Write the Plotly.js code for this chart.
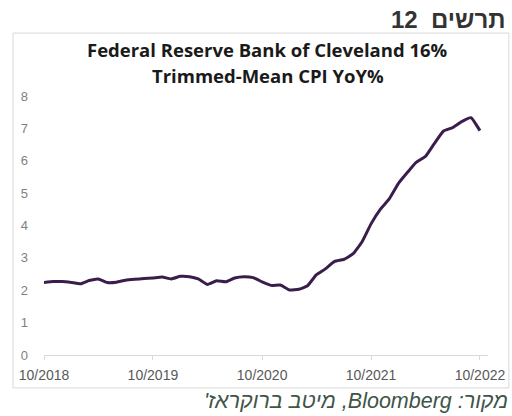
<!DOCTYPE html>
<html>
<head>
<meta charset="utf-8">
<script src="https://cdn.plot.ly/plotly-3.0.1.min.js"></script>
<style>html,body{margin:0;padding:0;background:#fff;}#chart{width:512px;height:416px;}</style>
</head>
<body>
<div id="chart"></div>
<script>
const months = [
 '2018-10-01','2018-11-01','2018-12-01',
 '2019-01-01','2019-02-01','2019-03-01','2019-04-01','2019-05-01','2019-06-01','2019-07-01','2019-08-01','2019-09-01','2019-10-01','2019-11-01','2019-12-01',
 '2020-01-01','2020-02-01','2020-03-01','2020-04-01','2020-05-01','2020-06-01','2020-07-01','2020-08-01','2020-09-01','2020-10-01','2020-11-01','2020-12-01',
 '2021-01-01','2021-02-01','2021-03-01','2021-04-01','2021-05-01','2021-06-01','2021-07-01','2021-08-01','2021-09-01','2021-10-01','2021-11-01','2021-12-01',
 '2022-01-01','2022-02-01','2022-03-01','2022-04-01','2022-05-01','2022-06-01','2022-07-01','2022-08-01','2022-09-01','2022-10-01'
];
const trimmedMeanCPI = [
 2.24,2.27,2.27,
 2.24,2.20,2.30,2.35,2.24,2.25,2.31,2.34,2.36,2.38,2.41,2.35,
 2.43,2.42,2.35,2.18,2.29,2.26,2.38,2.42,2.39,2.26,2.15,2.16,
 2.01,2.03,2.13,2.48,2.66,2.89,2.95,3.12,3.50,4.05,4.50,4.82,
 5.30,5.65,5.95,6.13,6.53,6.92,7.02,7.21,7.33,6.93
];
const RLE = '\u202B', PDF = '\u202C';
const chartNumber = RLE + 'תרשים\u00A0 12' + PDF;
const titleLine1 = 'Federal Reserve Bank of Cleveland 16%';
const titleLine2 = 'Trimmed-Mean CPI YoY%';
const sourceText = RLE + "מקור: Bloomberg, מיטב ברוקראז'" + PDF;

const trace = {
  x: months, y: trimmedMeanCPI, type: 'scatter', mode: 'lines',
  line: {color: '#3b1d4c', width: 3, shape: 'spline', smoothing: 0.4},
  hoverinfo: 'skip'
};

const layout = {
  width: 512, height: 416,
  margin: {l: 44, r: 24, t: 96, b: 61},
  paper_bgcolor: '#ffffff', plot_bgcolor: '#ffffff',
  showlegend: false,
  font: {family: 'Liberation Sans, Arial, sans-serif', color: '#595959', size: 12},
  xaxis: {
    type: 'date', range: ['2018-10-01', '2022-10-28'],
    tick0: '2018-10-01', dtick: 'M12', tickformat: '%m/%Y',
    showgrid: false, zeroline: false, showline: true, linecolor: '#d9d9d9', linewidth: 1,
    ticks: 'outside', ticklen: 4, tickcolor: '#d9d9d9',
    tickfont: {size: 14, color: '#595959'}, ticklabelstandoff: 3
  },
  yaxis: {
    range: [0, 8], dtick: 1, tick0: 0,
    showgrid: false, zeroline: false, showline: false, ticks: '',
    tickfont: {size: 13, color: '#7f7f7f'}, ticklabelstandoff: 15
  },
  shapes: [{
    type: 'rect', xref: 'paper', yref: 'paper',
    x0: -0.0698, x1: 1.047, y0: -0.127, y1: 1.243,
    line: {color: '#d9d9d9', width: 1}, fillcolor: 'rgba(0,0,0,0)', layer: 'below'
  }],
  annotations: [
    {text: titleLine1, xref: 'paper', yref: 'paper', x: 0.5045, y: 1.178, xanchor: 'center', yanchor: 'middle', showarrow: false,
     font: {family: 'Open Sans, sans-serif', size: 18.5, color: '#1a1a1a', weight: 'bold'}},
    {text: titleLine2, xref: 'paper', yref: 'paper', x: 0.5045, y: 1.081, xanchor: 'center', yanchor: 'middle', showarrow: false,
     font: {family: 'Open Sans, sans-serif', size: 18.5, color: '#1a1a1a', weight: 'bold'}},
    {text: chartNumber, xref: 'paper', yref: 'paper', x: 1.0428, y: 1.297, xanchor: 'right', yanchor: 'middle', showarrow: false,
     font: {family: 'Liberation Sans, Arial, sans-serif', size: 24, color: '#333333', weight: 'bold'}},
    {text: sourceText, xref: 'paper', yref: 'paper', x: 1.049, y: -0.178, xanchor: 'right', yanchor: 'middle', showarrow: false,
     font: {family: 'Liberation Sans, Arial, sans-serif', size: 21.5, color: '#3e5548', style: 'italic'}}
  ]
};

Plotly.newPlot('chart', [trace], layout, {displayModeBar: false, staticPlot: true});
</script>
</body>
</html>
